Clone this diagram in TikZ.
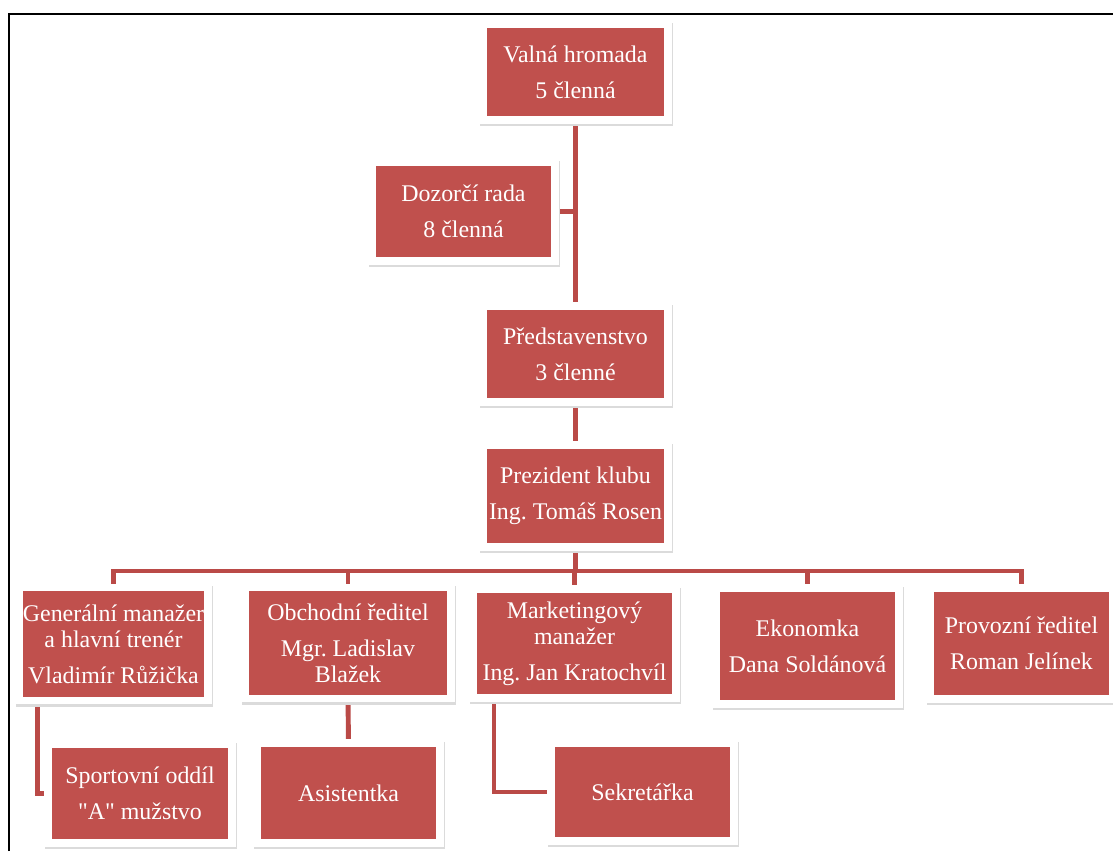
\documentclass[tikz,border=0pt]{standalone}
\usepackage{fontspec}
\setmainfont{Liberation Serif}
\usetikzlibrary{backgrounds,calc}
\frenchspacing
\definecolor{boxred}{HTML}{C0504D}
\definecolor{linkred}{HTML}{BA4A47}
\tikzset{
  orgbox/.style={rectangle, fill=boxred, text=white, align=center,
    inner xsep=0pt, outer sep=0pt, minimum width=#1,
    preaction={draw=black!14, line width=11pt, transform canvas={shift={(0.7pt,-1.6pt)}}},
    preaction={draw=white, line width=11pt},
    font=\fontsize{17}{25.5}\selectfont},
  link/.style={draw=linkred, line width=3.5pt}
}
\begin{document}
\begin{tikzpicture}[x=0.025cm, y=-0.025cm]
\useasboundingbox (0,0) rectangle (1113,851);
\draw[line width=2pt] (9,851) -- (9,14) -- (1113,14);

\node[orgbox=4.425cm, minimum height=2.2cm](valna) at (575.5,72) {Valná hromada\\5 členná};
\node[orgbox=4.375cm, minimum height=2.275cm](dozor) at (463.5,211.5) {Dozorčí rada\\8 členná};
\node[orgbox=4.425cm, minimum height=2.2cm](predst) at (575.5,354) {Představenstvo\\3 členné};
\node[orgbox=4.425cm, minimum height=2.35cm](prez) at (575.5,496) {Prezident klubu\\Ing. Tomáš Rosen};

\node[orgbox=4.375cm, minimum height=2.625cm](gen) at (113.5,644) {Generální manažer\\[-7pt]a hlavní trenér\\Vladimír Růžička};
\node[orgbox=4.95cm, minimum height=2.575cm](obch) at (348,643) {Obchodní ředitel\\Mgr. Ladislav\\[-7pt]Blažek};
\node[orgbox=4.875cm, minimum height=2.525cm](mark) at (574.5,643.5) {Marketingový\\[-7pt]manažer\\Ing. Jan Kratochvíl};
\node[orgbox=4.375cm, minimum height=2.7cm](ekon) at (807.5,646) {Ekonomka\\Dana Soldánová};
\node[orgbox=4.375cm, minimum height=2.575cm](prov) at (1021.5,643.5) {Provozní ředitel\\Roman Jelínek};

\node[orgbox=4.4cm, minimum height=2.275cm](sport) at (140,793.5) {Sportovní oddíl\\\textquotedbl A\textquotedbl{} mužstvo};
\node[orgbox=4.375cm, minimum height=2.3cm](asist) at (348.5,793) {Asistentka};
\node[orgbox=4.375cm, minimum height=2.25cm](sekr) at (642.5,792) {Sekretářka};

\begin{scope}[on background layer]
\draw[link] (valna.south) -- (predst.north);
\draw[link] (dozor.east) -- (dozor.east -| valna.south);
\draw[link] (predst.south) -- (prez.north);
\coordinate (bus) at (575,571);
\foreach \n in {gen,obch,mark,ekon,prov}
  \draw[link] (prez.south) -- (prez.south |- bus) -| (\n.north);
\draw[link] ($(gen.south west)+(15,0)$) |- (sport.west);
\draw[link] (obch.south) -- (asist.north);
\draw[link] ($(mark.south west)+(17,0)$) |- (sekr.west);
\end{scope}
\end{tikzpicture}
\end{document}
